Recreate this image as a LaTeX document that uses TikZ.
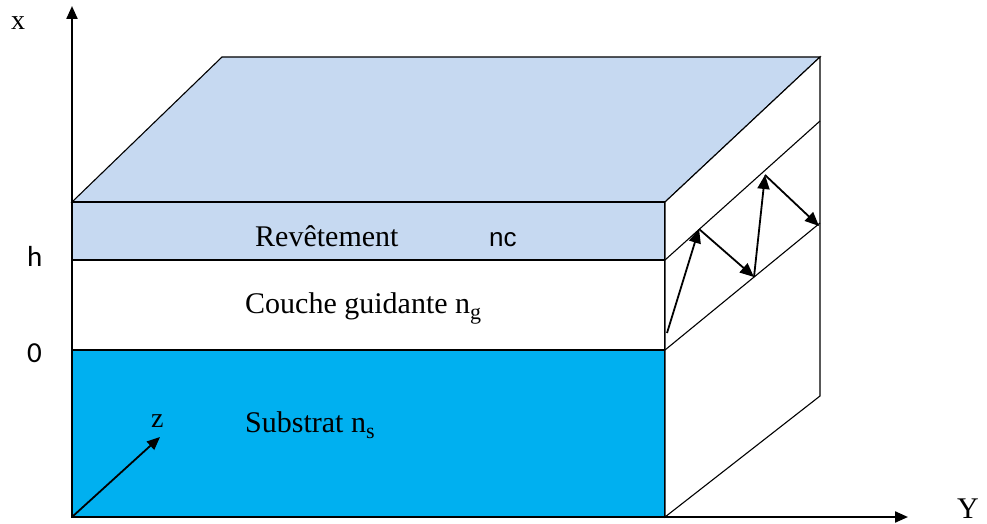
\documentclass[tikz,border=0pt]{standalone}
\usepackage{fontspec}
\setmainfont{Liberation Serif}
\newfontfamily\arialfont{Liberation Sans}
\newfontfamily\calibfont{Carlito}
\usetikzlibrary{arrows.meta}
\definecolor{revcol}{HTML}{C6D9F1}
\definecolor{subcol}{HTML}{00B0F0}
\newcommand{\indice}[1]{\raisebox{-6pt}{\fontsize{22}{22}\selectfont #1}}
\tikzset{
	axe/.style={line width=2.2pt, -{Triangle[length=13pt,width=11pt]}},
	rayon/.style={line width=1.8pt, -{Triangle[length=14pt,width=12pt]}},
	arete/.style={line width=1.1pt},
	couche/.style={line width=2pt},
	lbl/.style={anchor=base west, inner sep=0pt, font=\fontsize{30}{31}\selectfont},
	lblsans/.style={anchor=base west, inner sep=0pt, font=\calibfont\fontsize{29}{30}\selectfont}
}

\begin{document}
\begin{tikzpicture}[x=1pt, y=-1pt]
			%%%%% START %%%%%
			\useasboundingbox (0, 0) rectangle (987, 524);
			
			% face du dessus
			\draw[arete, fill=revcol] (72, 202) -- (222, 57) -- (820, 57) -- (665, 202) -- cycle;
			
			% face avant
			\draw[arete, fill=revcol] (72, 202) rectangle (665, 260);
			\draw[arete, fill=white] (72, 260) rectangle (665, 350);
			\draw[arete, fill=subcol] (72, 350) rectangle (665, 517);
			\draw[couche] (72, 260) -- (665, 260);
			\draw[couche] (72, 350) -- (665, 350);
			
			% face de droite
			\draw[arete, fill=white] (665, 202) -- (820, 57) -- (820, 396) -- (665, 517) -- cycle;
			\draw[arete] (665, 260) -- (820, 121);
			\draw[arete] (665, 350) -- (820, 223);
			
			% rayon guide
			\coordinate (r0) at (667, 333);
			\coordinate (r1) at (699, 229);
			\coordinate (r2) at (754, 277);
			\coordinate (r3) at (765, 175);
			\coordinate (r4) at (819, 226);
			\draw[rayon] (r0) -- (r1);
			\draw[rayon] (r1) -- (r2);
			\draw[rayon] (r2) -- (r3);
			\draw[rayon] (r3) -- (r4);
			
			% axes
			\coordinate (O) at (72, 517);
			\coordinate (xtip) at (72, 6);
			\coordinate (ytip) at (908, 517);
			\coordinate (ztip) at (160, 437);
			\draw[axe] (O) -- (xtip);
			\draw[axe] (O) -- (ytip);
			\draw[axe, line width=1.8pt] (O) -- (ztip);
			
			\node[lbl, font=\fontsize{28}{30}\selectfont] (xlab) at (11, 30) {x};
			\node[lbl] (ylab) at (957, 518) {Y};
			\node[lbl, font=\fontsize{28}{30}\selectfont] (zlab) at (151, 427) {z};
			\node[lblsans] (hlab) at (27, 266) {h};
			\node[lblsans] (zero) at (27, 362) {0};
			
			% textes des couches
			\node[lbl] (revetement) at (255, 246) {Revêtement};
			\node[lbl, font=\arialfont\fontsize{26}{27}\selectfont] (nc) at (489, 246) {nc};
			\node[lbl] (guide) at (245, 313) {Couche guidante n\indice{g}};
			\node[lbl] (substrat) at (245, 432) {Substrat n\indice{s}};
			
			%%%%% END %%%%%
\end{tikzpicture}
\end{document}
